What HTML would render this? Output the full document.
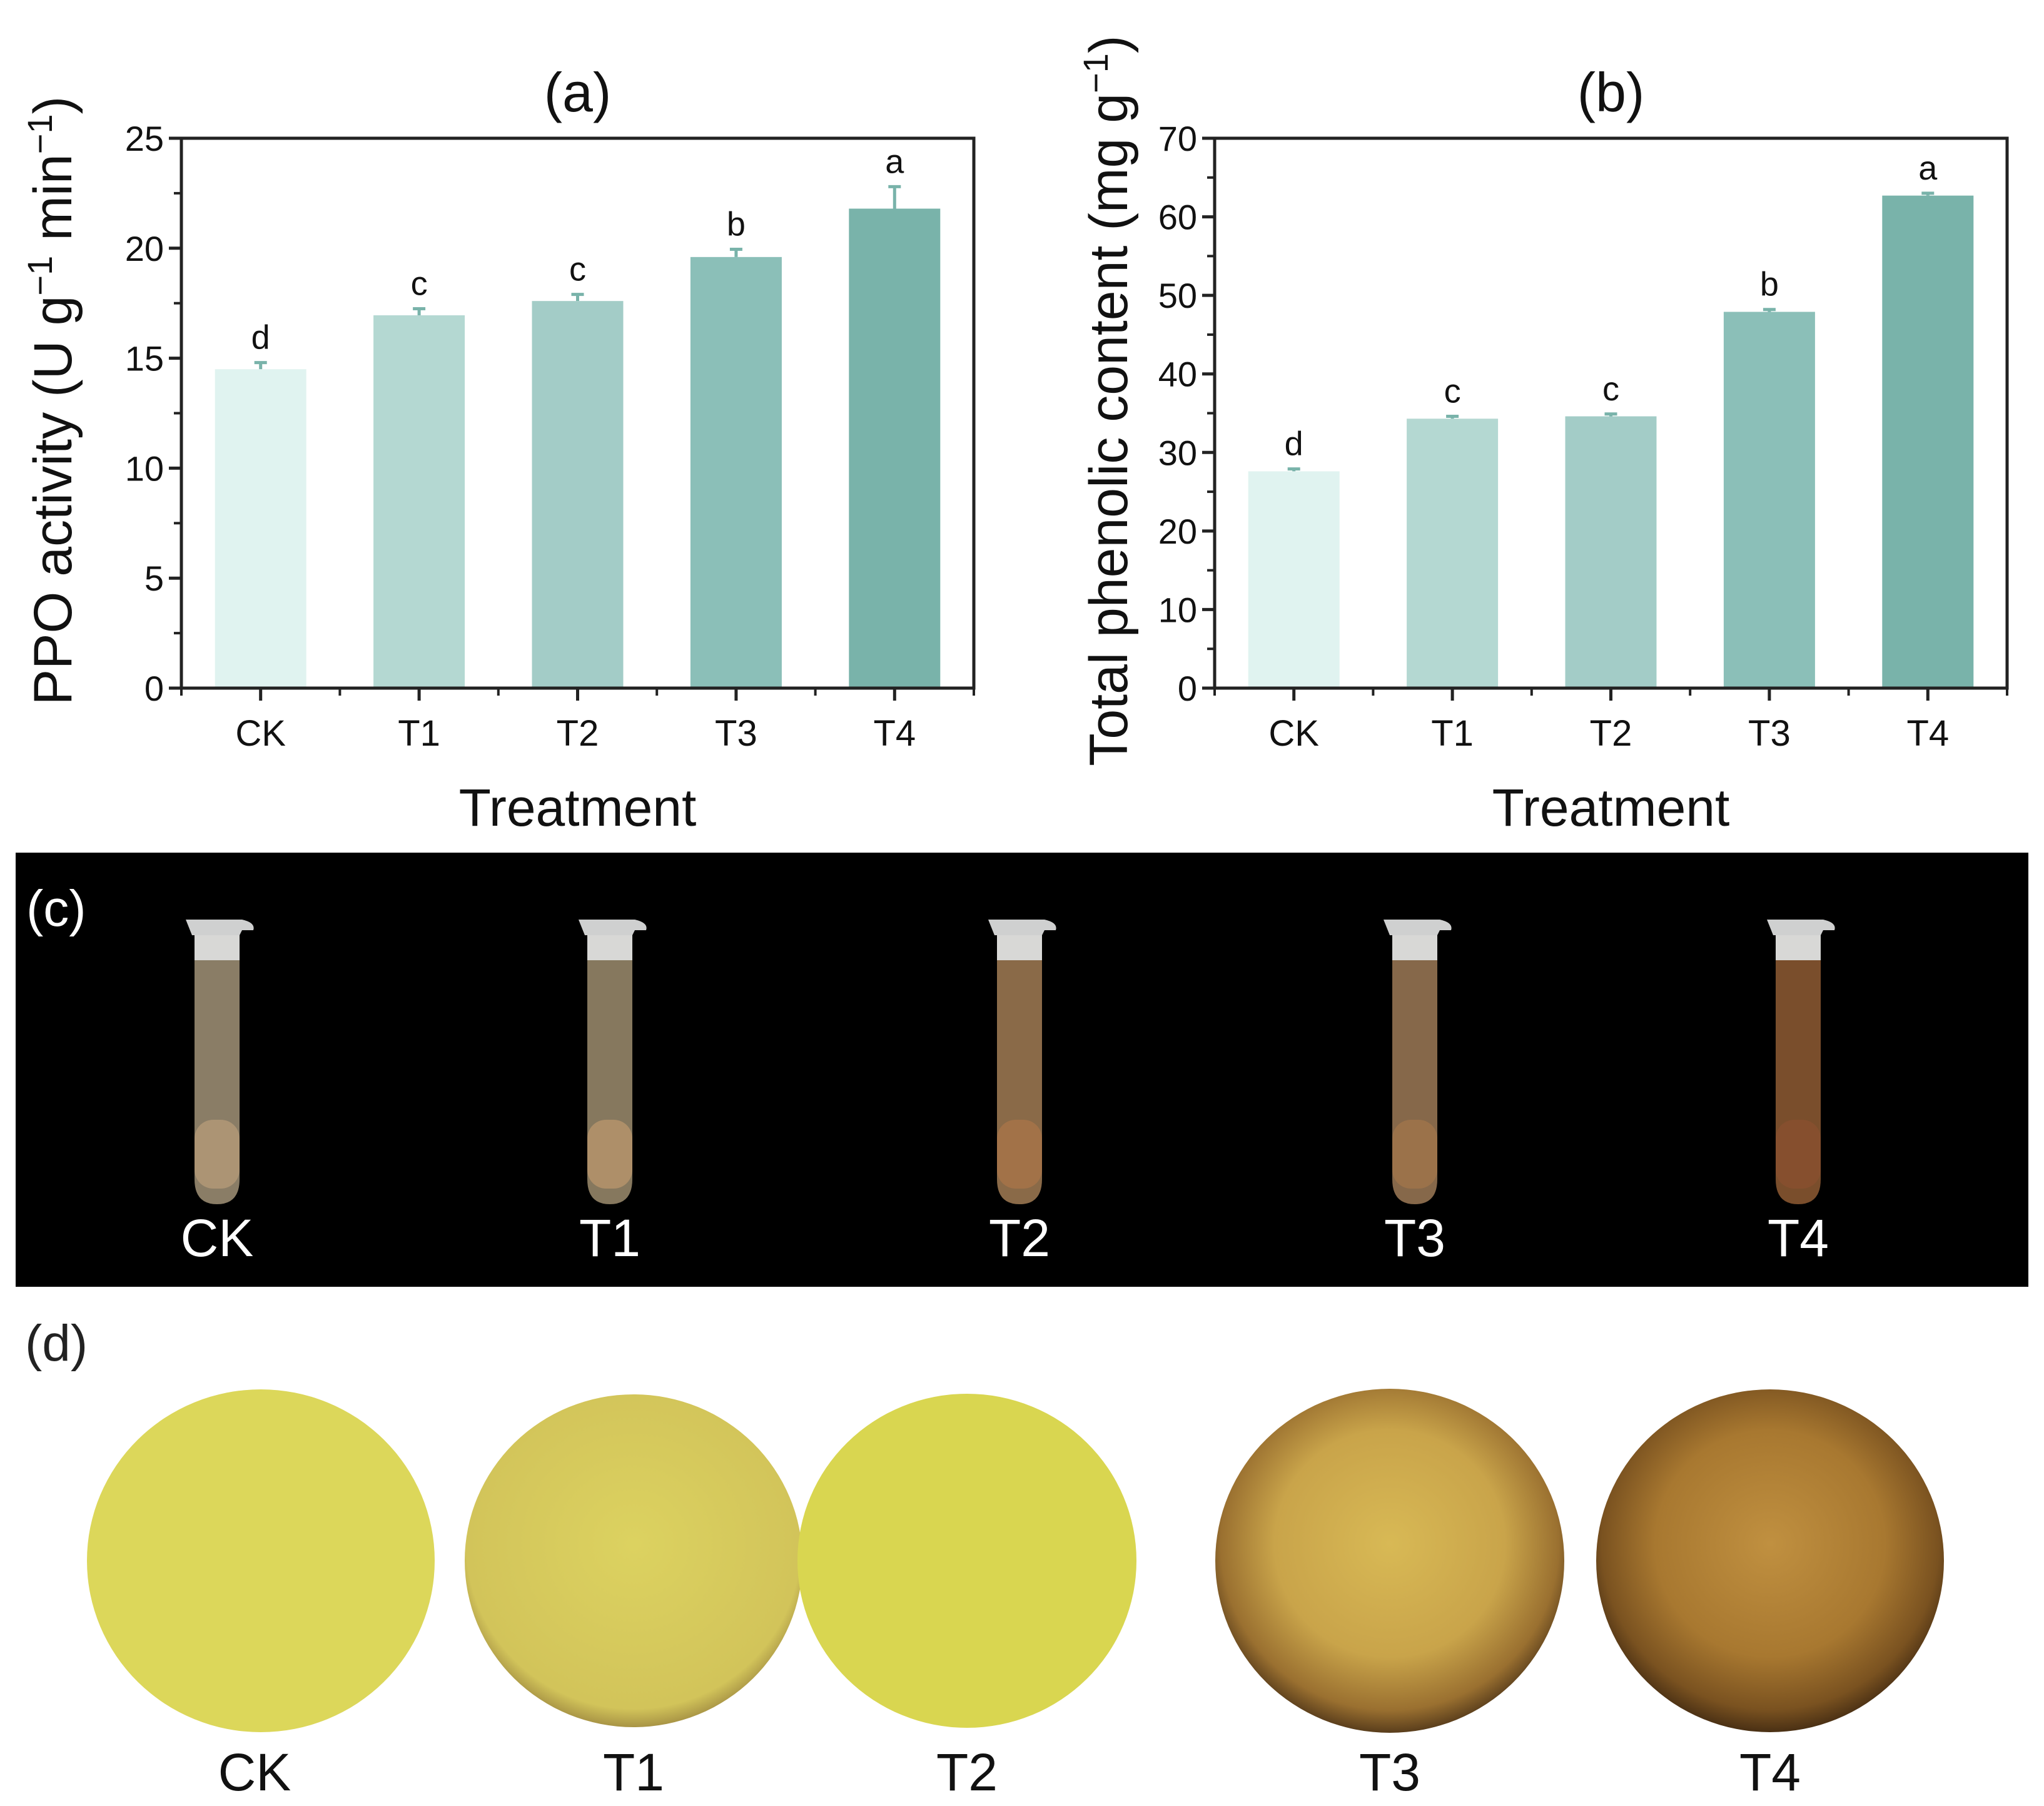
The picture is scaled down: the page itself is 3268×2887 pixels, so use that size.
<!DOCTYPE html>
<html><head><meta charset="utf-8"><style>
html,body{margin:0;padding:0;background:#fff}
svg{display:block;font-family:"Liberation Sans",Arial,sans-serif}
</style></head><body>
<svg id="fig" width="3268" height="2887" viewBox="0 0 3268 2887">
<defs>
<radialGradient id="gT3" cx="50%" cy="45%" r="55%"><stop offset="0" stop-color="#d8b955"/><stop offset="0.6" stop-color="#c9a44a"/><stop offset="0.88" stop-color="#9a7030"/><stop offset="1" stop-color="#5a3e1c"/></radialGradient>
<radialGradient id="gT4" cx="50%" cy="45%" r="55%"><stop offset="0" stop-color="#c09040"/><stop offset="0.6" stop-color="#a87830"/><stop offset="0.88" stop-color="#7a5220"/><stop offset="1" stop-color="#4a3014"/></radialGradient>
<radialGradient id="gT1" cx="50%" cy="45%" r="55%"><stop offset="0" stop-color="#dcd260"/><stop offset="0.9" stop-color="#d2c45a"/><stop offset="1" stop-color="#a89445"/></radialGradient>
</defs>
<g id="pa"></g>
<g id="pb"></g>
<g id="pc">
<rect x="25" y="1363" width="3218" height="694" fill="#000"/>
<text x="42" y="1480" font-size="82" fill="#fff">(c)</text>
</g>
<g id="pd">
<text x="40" y="2175" font-size="82" fill="#222">(d)</text>
</g>
</svg>
<script>
const NS="http://www.w3.org/2000/svg";
const categories=["CK","T1","T2","T3","T4"];
const ppoValues=[14.5,16.95,17.6,19.6,21.8];
const ppoErrors=[0.3,0.3,0.3,0.35,1.0];
const ppoLetters=["d","c","c","b","a"];
const ppoTicks=[0,5,10,15,20,25];
const tpcValues=[27.6,34.3,34.6,47.9,62.7];
const tpcErrors=[0.3,0.3,0.3,0.3,0.3];
const tpcLetters=["d","c","c","b","a"];
const tpcTicks=[0,10,20,30,40,50,60,70];
const barColors=["#e0f3f0","#b4d8d2","#a3ccc7","#8bbfb8","#79b3aa"];
function mk(tag,attrs,parent,txt){const e=document.createElementNS(NS,tag);for(const k in attrs)e.setAttribute(k,attrs[k]);if(txt!==undefined)e.textContent=txt;parent.appendChild(e);return e;}
function chart(g,L,R,T,B,vals,errs,letters,ticks,ymax,minor,title,ytitle,ytx){
  const y=v=>B-(v/ymax)*(B-T);
  const step=(R-L)/5;
  const x=i=>L+step*(i+0.5);
  const bw=146;
  vals.forEach((v,i)=>{
    const r=mk('rect',{x:x(i)-bw/2,y:y(v),width:bw,height:B-y(v),fill:barColors[i]},g);
    
    
    const e=mk('path',{d:`M${x(i)} ${y(v)} V${y(v+errs[i])} M${x(i)-10} ${y(v+errs[i])} H${x(i)+10}`,stroke:barColors[4],'stroke-width':5,fill:'none'},g);
    
    
    const t=mk('text',{x:x(i),y:y(v+errs[i])-22,'font-size':54,'text-anchor':'middle',fill:'#111'},g,letters[i]);
    
    
    const c=mk('text',{x:x(i),y:B+92,'font-size':58,'text-anchor':'middle',fill:'#111'},g,categories[i]);
    
    
    mk('line',{x1:x(i),x2:x(i),y1:B,y2:B+20,stroke:'#222','stroke-width':5},g);
    mk('line',{x1:L+step*i,x2:L+step*i,y1:B,y2:B+12,stroke:'#222','stroke-width':4},g);
  });
  mk('line',{x1:R,x2:R,y1:B,y2:B+12,stroke:'#222','stroke-width':4},g);
  ticks.forEach(t=>{
    mk('line',{x1:L-20,x2:L,y1:y(t),y2:y(t),stroke:'#222','stroke-width':5},g);
    const tl=mk('text',{x:L-28,y:y(t)+20,'font-size':56,'text-anchor':'end',fill:'#111'},g,String(t));
    
    
  });
  for(let k=0;k<ticks.length-1;k++){const m=(ticks[k]+ticks[k+1])/2;mk('line',{x1:L-12,x2:L,y1:y(m),y2:y(m),stroke:'#222','stroke-width':4},g);}
  const box=mk('rect',{x:L,y:T,width:R-L,height:B-T,fill:'none',stroke:'#222','stroke-width':5},g);
  
  
  const tt=mk('text',{x:(L+R)/2,y:178,'font-size':88,'text-anchor':'middle',fill:'#111'},g,title);
  
  
  const xt=mk('text',{x:(L+R)/2,y:1320,'font-size':84,'text-anchor':'middle',fill:'#111'},g,'Treatment');
  
  
  const yt=mk('text',{x:0,y:0,'font-size':86,'text-anchor':'middle',fill:'#111',transform:`translate(${ytx},${(T+B)/2-20}) rotate(-90)`},g);
  
  
  yt.innerHTML=ytitle;
}
chart(document.getElementById('pa'),290,1557,221,1100,ppoValues,ppoErrors,ppoLetters,ppoTicks,25,true,'(a)','PPO activity (U g<tspan baseline-shift="super" font-size="56">−1</tspan> min<tspan baseline-shift="super" font-size="56">−1</tspan>)',114);
chart(document.getElementById('pb'),1942,3209,221,1100,tpcValues,tpcErrors,tpcLetters,tpcTicks,70,true,'(b)','Total phenolic content (mg g<tspan baseline-shift="super" font-size="56">−1</tspan>)',1802);
const tubeX=[347,975,1630,2262,2875];
const tubeFill=["#8a7d66","#86785e","#8a6a48","#86684a","#7a4e2c"];
const tubeBottom=["#b49a78","#b8956c","#a87448","#a0744a","#8a5030"];
const pc=document.getElementById('pc');
tubeX.forEach((cx,i)=>{
  const g=mk('g',{},pc);
  
  
  mk('path',{d:`M${cx-36} 1520 V1885 Q${cx-36} 1925 ${cx} 1925 Q${cx+36} 1925 ${cx+36} 1885 V1520 Z`,fill:tubeFill[i]},g);
  mk('rect',{x:cx-36,y:1790,width:72,height:110,rx:30,fill:tubeBottom[i],opacity:0.8},g);
  mk('rect',{x:cx-36,y:1490,width:72,height:45,fill:'#d8d8d6'},g);
  mk('path',{d:`M${cx-50} 1470 H${cx+40} Q${cx+62} 1475 ${cx+58} 1487 H${cx+40} L${cx+36} 1495 H${cx-40} Z`,fill:'#cfd0d0'},g);
  const t=mk('text',{x:cx,y:2008,'font-size':84,'text-anchor':'middle',fill:'#fff'},g,categories[i]);
  
  
});
const sliceX=[417,1013,1546,2222,2830];
const sliceR=[278,270,271,279,278];
const sliceFill=["#dcd75a","url(#gT1)","#d9d650","url(#gT3)","url(#gT4)"];
const pd=document.getElementById('pd');
sliceX.forEach((cx,i)=>{
  const c=mk('ellipse',{cx:cx,cy:2495,rx:sliceR[i],ry:sliceR[i]-4,fill:sliceFill[i]},pd);
  
  
  const t=mk('text',{x:cx-(i===0?10:0),y:2862,'font-size':84,'text-anchor':'middle',fill:'#111'},pd,categories[i]);
  
  
});
</script>
</body></html>
